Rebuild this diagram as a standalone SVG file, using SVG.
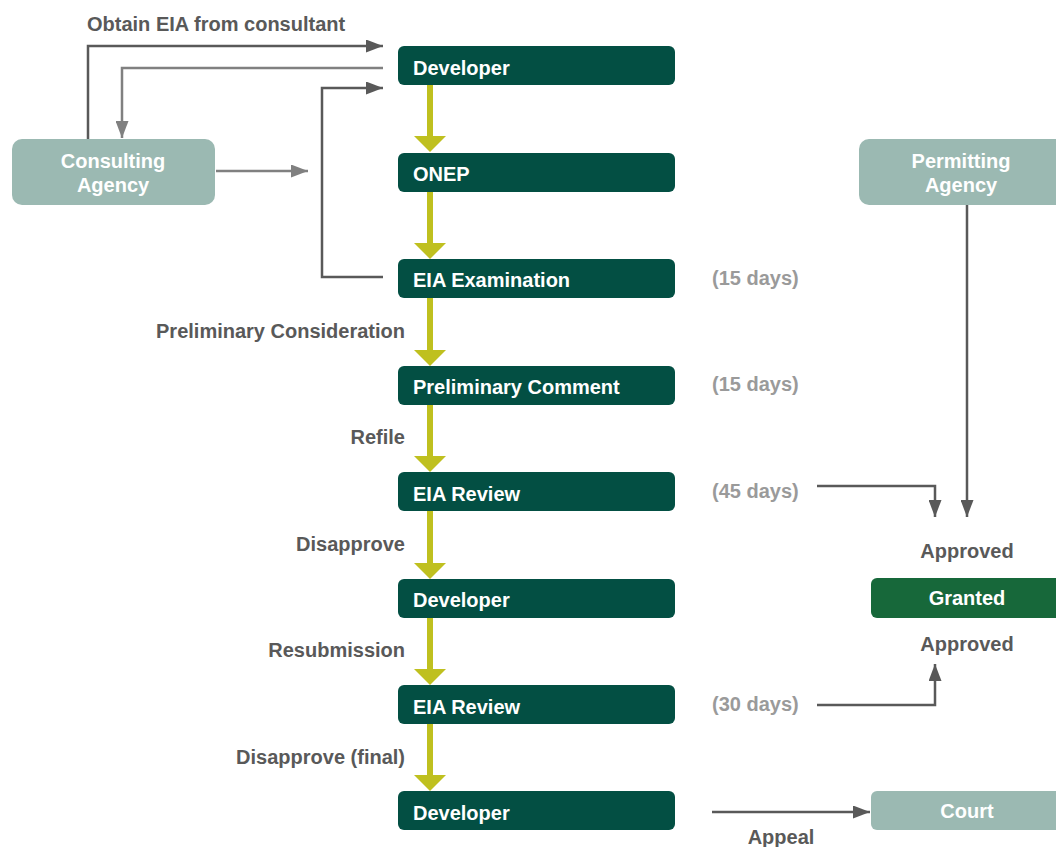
<svg xmlns="http://www.w3.org/2000/svg" width="1056" height="847" viewBox="0 0 1056 847">
<style>
.box{fill:#034f43}
.lbox{fill:#9bb9b2}
.bt{font-family:"Liberation Sans",Arial,sans-serif;font-weight:bold;font-size:20px;fill:#fff}
.lt{font-family:"Liberation Sans",Arial,sans-serif;font-weight:bold;font-size:20px;fill:#595959}
.dt{font-family:"Liberation Sans",Arial,sans-serif;font-weight:bold;font-size:20px;fill:#9a9a9a}
.dk{fill:none;stroke:#595959;stroke-width:2.5}
.gr{fill:none;stroke:#808080;stroke-width:2.5}
.yl{fill:none;stroke:#bfc01f;stroke-width:6}
</style>
<defs>
<marker id="ad" viewBox="0 0 10 10" refX="10" refY="5" markerWidth="17" markerHeight="13" markerUnits="userSpaceOnUse" orient="auto" preserveAspectRatio="none"><path d="M0,0L10,5L0,10z" fill="#595959"/></marker>
<marker id="ag" viewBox="0 0 10 10" refX="10" refY="5" markerWidth="17" markerHeight="13" markerUnits="userSpaceOnUse" orient="auto" preserveAspectRatio="none"><path d="M0,0L10,5L0,10z" fill="#808080"/></marker>
</defs>
<g id="connectors">
<path class="yl" d="M430,85V136"/><path d="M414,136h32l-16,16z" fill="#bfc01f"/>
<path class="yl" d="M430,192V243"/><path d="M414,243h32l-16,16z" fill="#bfc01f"/>
<path class="yl" d="M430,298V350"/><path d="M414,350h32l-16,16z" fill="#bfc01f"/>
<path class="yl" d="M430,405V456"/><path d="M414,456h32l-16,16z" fill="#bfc01f"/>
<path class="yl" d="M430,511V563"/><path d="M414,563h32l-16,16z" fill="#bfc01f"/>
<path class="yl" d="M430,618V669"/><path d="M414,669h32l-16,16z" fill="#bfc01f"/>
<path class="yl" d="M430,724V775"/><path d="M414,775h32l-16,16z" fill="#bfc01f"/>
<path class="dk" d="M88,139V46H383" marker-end="url(#ad)"/>
<path class="gr" d="M383,68H122V138" marker-end="url(#ag)"/>
<path class="dk" d="M383,277H322V88H383" marker-end="url(#ad)"/>
<path class="gr" d="M216,171H308" marker-end="url(#ag)"/>
<path class="dk" d="M967,205V517" marker-end="url(#ad)"/>
<path class="dk" d="M817,486H935V517" marker-end="url(#ad)"/>
<path class="dk" d="M817,705H935V664" marker-end="url(#ad)"/>
<path class="dk" d="M712,812H870" marker-end="url(#ad)"/>
<text class="lt" x="87" y="31">Obtain EIA from consultant</text>
<text class="lt" x="405" y="338" text-anchor="end">Preliminary Consideration</text>
<text class="lt" x="405" y="444" text-anchor="end">Refile</text>
<text class="lt" x="405" y="551" text-anchor="end">Disapprove</text>
<text class="lt" x="405" y="657" text-anchor="end">Resubmission</text>
<text class="lt" x="405" y="764" text-anchor="end">Disapprove (final)</text>
<text class="lt" x="967" y="558" text-anchor="middle">Approved</text>
<text class="lt" x="967" y="651" text-anchor="middle">Approved</text>
<text class="lt" x="781" y="844" text-anchor="middle">Appeal</text>
<text class="dt" x="712" y="285">(15 days)</text>
<text class="dt" x="712" y="391">(15 days)</text>
<text class="dt" x="712" y="498">(45 days)</text>
<text class="dt" x="712" y="711">(30 days)</text>
</g>
<g id="consulting"><rect class="lbox" x="12" y="139" width="203" height="66" rx="10"/><text class="bt" x="113" y="168" text-anchor="middle">Consulting</text><text class="bt" x="113" y="192" text-anchor="middle">Agency</text></g>
<g id="permitting"><rect class="lbox" x="859" y="139" width="210" height="66" rx="10"/><text class="bt" x="961" y="168" text-anchor="middle">Permitting</text><text class="bt" x="961" y="192" text-anchor="middle">Agency</text></g>
<g id="developer1"><rect class="box" x="398" y="46" width="277" height="39" rx="6"/><text class="bt" x="413" y="75">Developer</text></g>
<g id="onep"><rect class="box" x="398" y="153" width="277" height="39" rx="6"/><text class="bt" x="413" y="181">ONEP</text></g>
<g id="eia-exam"><rect class="box" x="398" y="259" width="277" height="39" rx="6"/><text class="bt" x="413" y="287">EIA Examination</text></g>
<g id="prelim"><rect class="box" x="398" y="366" width="277" height="39" rx="6"/><text class="bt" x="413" y="394">Preliminary Comment</text></g>
<g id="review1"><rect class="box" x="398" y="472" width="277" height="39" rx="6"/><text class="bt" x="413" y="501">EIA Review</text></g>
<g id="developer2"><rect class="box" x="398" y="579" width="277" height="39" rx="6"/><text class="bt" x="413" y="607">Developer</text></g>
<g id="review2"><rect class="box" x="398" y="685" width="277" height="39" rx="6"/><text class="bt" x="413" y="714">EIA Review</text></g>
<g id="developer3"><rect class="box" x="398" y="791" width="277" height="39" rx="6"/><text class="bt" x="413" y="820">Developer</text></g>
<g id="granted"><rect x="871" y="578" width="200" height="40" rx="6" fill="#17683a"/><text class="bt" x="967" y="605" text-anchor="middle">Granted</text></g>
<g id="court"><rect class="lbox" x="871" y="791" width="200" height="39" rx="6"/><text class="bt" x="967" y="818" text-anchor="middle">Court</text></g>
</svg>
